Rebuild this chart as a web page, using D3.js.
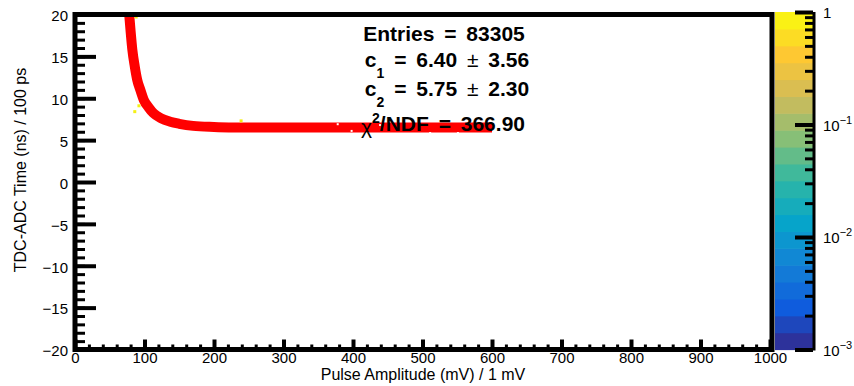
<!DOCTYPE html>
<html>
<head>
<meta charset="utf-8">
<script src="https://cdn.jsdelivr.net/npm/d3@7/dist/d3.min.js"></script>
<style>
  body { margin: 0; background: #fff; }
  text { font-family: "Liberation Sans", Arial, sans-serif; fill: #000; }
</style>
</head>
<body>
<svg id="chart" width="854" height="386"></svg>
<script>
// fitted curve: [pulse amplitude mV, time]
const fitX = [78, 80, 82.5, 86, 89.5, 94, 99, 106, 113, 124, 137, 150, 170, 200, 230, 260, 300, 400, 500, 600];
const fitY = [20, 18, 15.8, 13.8, 12.2, 11, 9.8, 8.9, 8.2, 7.6, 7.2, 6.95, 6.7, 6.58, 6.52, 6.5, 6.5, 6.5, 6.5, 6.5];
// isolated high-content cells (yellow)
const hotX = [88, 86, 92, 239];
const hotY = [19.7, 8.4, 9.1, 7.3];
// small gaps in the band
const gapX = [378, 398, 421, 439, 511, 551];
const gapY = [6.9, 6.1, 5.85, 6.8, 5.85, 5.85];

const xTicks = d3.range(0, 1001, 100);
const xMinor = d3.range(0, 1001, 20);
const yTicks = d3.range(-20, 21, 5);
const yMinor = d3.range(-20, 21, 1);
const zDecades = [1e-3, 1e-2, 1e-1, 1];
const zLabels = [["10", "\u22123"], ["10", "\u22122"], ["10", "\u22121"], ["1", ""]];
const nBands = 20;
// kBird palette stops
const birdColors = ["#35288a", "#0f5cdd", "#1481d6", "#06a4ca", "#2eb7a4", "#87bf77", "#d1bb59", "#fec832", "#f9fb0e"];

const statLines = ["Entries = 83305"];
const c1 = ["6.40", "3.56"];
const c2 = ["5.75", "2.30"];
const chi2 = "366.90";

const svg = d3.select("#chart");
const x = d3.scaleLinear().domain([0, 1000]).range([75, 770]);
const y = d3.scaleLinear().domain([-20, 20]).range([349.5, 14.5]);
const z = d3.scaleLog().domain([1e-3, 1]).range([349.5, 12]);

svg.append("clipPath").attr("id", "plot")
  .append("rect").attr("x", 75).attr("y", 14.5).attr("width", 695).attr("height", 335);

// colour bar bands
const pal = d3.piecewise(d3.interpolateRgb, birdColors);
const bands = d3.range(nBands);
const logLo = Math.log10(1e-3), logHi = 0;
const bandEdge = i => z(Math.pow(10, logLo + i * (logHi - logLo) / nBands));
svg.append("g").selectAll("rect").data(bands).enter().append("rect")
  .attr("x", 775)
  .attr("width", 38)
  .attr("y", i => bandEdge(i + 1))
  .attr("height", i => bandEdge(i) - bandEdge(i + 1) + 0.6)
  .attr("fill", i => pal((i + 0.5) / nBands));

// fitted curve
const line = d3.line().x((d, i) => x(fitX[i])).y(d => y(d)).curve(d3.curveMonotoneX);
svg.append("path")
  .attr("clip-path", "url(#plot)")
  .attr("d", line(fitY))
  .attr("fill", "none")
  .attr("stroke", "#ff0000")
  .attr("stroke-width", 10);

svg.append("g").selectAll("rect").data(gapX).enter().append("rect")
  .attr("x", d => x(d) - 1).attr("y", (d, i) => y(gapY[i]) - 1)
  .attr("width", 2).attr("height", 2).attr("fill", "#fff");

svg.append("g").selectAll("rect").data(hotX).enter().append("rect")
  .attr("x", d => x(d) - 1.5).attr("y", (d, i) => y(hotY[i]) - 1.5)
  .attr("width", 3).attr("height", 3).attr("fill", "#f5f014");

// frame
const frame = svg.append("g").attr("stroke", "#000").attr("stroke-width", 5);
frame.append("line").attr("x1", 73).attr("x2", 773).attr("y1", 14.5).attr("y2", 14.5);
frame.append("line").attr("x1", 73).attr("x2", 773).attr("y1", 349.5).attr("y2", 349.5);
frame.append("line").attr("x1", 75).attr("x2", 75).attr("y1", 12).attr("y2", 352);
frame.append("line").attr("x1", 772).attr("x2", 772).attr("y1", 12).attr("y2", 352);
frame.append("line").attr("x1", 814).attr("x2", 814).attr("y1", 12).attr("y2", 350.5).attr("stroke-width", 3);

function tickStyle(g, w) {
  g.select(".domain").remove();
  g.selectAll(".tick line").attr("stroke", "#000").attr("stroke-width", w);
}

// y axis ticks
svg.append("g").attr("transform", "translate(75,0)")
  .call(d3.axisRight(y).tickValues(yMinor).tickSize(10).tickFormat(""))
  .call(g => tickStyle(g, 3));
svg.append("g").attr("transform", "translate(75,0)")
  .call(d3.axisRight(y).tickValues(yTicks).tickSize(21).tickFormat(""))
  .call(g => tickStyle(g, 4));
svg.append("g").attr("transform", "translate(75,0)")
  .call(d3.axisLeft(y).tickValues(yTicks).tickSize(0).tickPadding(7))
  .call(g => g.select(".domain").remove())
  .call(g => g.selectAll("text").attr("font-size", 15).attr("dy", "0.42em")
    .attr("font-family", "Liberation Sans, Arial, sans-serif").attr("fill", "#111"));

// x axis ticks
svg.append("g").attr("transform", "translate(0,349.5)")
  .call(d3.axisTop(x).tickValues(xMinor).tickSize(5).tickFormat(""))
  .call(g => tickStyle(g, 3));
svg.append("g").attr("transform", "translate(0,349.5)")
  .call(d3.axisTop(x).tickValues(xTicks).tickSize(10).tickFormat(""))
  .call(g => tickStyle(g, 4));
svg.append("g").attr("transform", "translate(0,349.5)")
  .call(d3.axisBottom(x).tickValues(xTicks).tickSize(0).tickPadding(3).tickFormat(d3.format("d")))
  .call(g => g.select(".domain").remove())
  .call(g => g.selectAll("text").attr("font-size", 15)
    .attr("font-family", "Liberation Sans, Arial, sans-serif").attr("fill", "#111"));

// colour bar axis
const zMinor = [];
zDecades.slice(0, 3).forEach(d => d3.range(2, 10).forEach(k => zMinor.push(d * k)));
svg.append("g").attr("transform", "translate(813,0)")
  .call(d3.axisLeft(z).tickValues(zMinor).tickSize(8).tickFormat(""))
  .call(g => tickStyle(g, 3));
svg.append("g").attr("transform", "translate(813,0)")
  .call(d3.axisLeft(z).tickValues(zDecades).tickSize(18).tickFormat(""))
  .call(g => tickStyle(g, 4));
const zl = svg.append("g").selectAll("text").data(zDecades).enter().append("text")
  .attr("x", 823).attr("y", d => z(d) + 6).attr("font-size", 15).attr("fill", "#111");
zl.append("tspan").text((d, i) => zLabels[i][0]);
zl.append("tspan").attr("font-size", 11).attr("dy", -7).text((d, i) => zLabels[i][1]);

// axis titles
svg.append("text").attr("x", 423).attr("y", 380).attr("text-anchor", "middle")
  .attr("font-size", 16).attr("fill", "#111").text("Pulse Amplitude (mV) / 1 mV");
svg.append("text").attr("transform", "translate(26,170) rotate(-90)").attr("text-anchor", "middle")
  .attr("font-size", 16).attr("fill", "#111").text("TDC-ADC Time (ns) / 100 ps");

// fit statistics
const stats = svg.append("g").attr("font-weight", "bold").attr("font-size", 21).attr("word-spacing", 4);
stats.append("text").attr("x", 444).attr("y", 41).attr("text-anchor", "middle").text(statLines[0]);

function paramLine(yb, sub, vals) {
  const t = stats.append("text").attr("x", 447).attr("y", yb).attr("text-anchor", "middle");
  t.append("tspan").text("c");
  t.append("tspan").attr("font-size", 14).attr("dy", 11).text(sub);
  t.append("tspan").attr("dy", -11).text(" = " + vals[0] + " ");
  t.append("tspan").attr("font-weight", "normal").text("\u00b1");
  t.append("tspan").text(" " + vals[1]);
}
paramLine(67, "1", c1);
paramLine(96, "2", c2);

const ct = stats.append("text").attr("x", 443).attr("y", 131).attr("text-anchor", "middle");
ct.append("tspan").attr("font-weight", "normal").attr("dy", 3).text("\u03c7");
ct.append("tspan").attr("font-size", 14).attr("dy", -11).text("2");
ct.append("tspan").attr("dy", 8).text("/NDF = " + chi2);
</script>
</body>
</html>
